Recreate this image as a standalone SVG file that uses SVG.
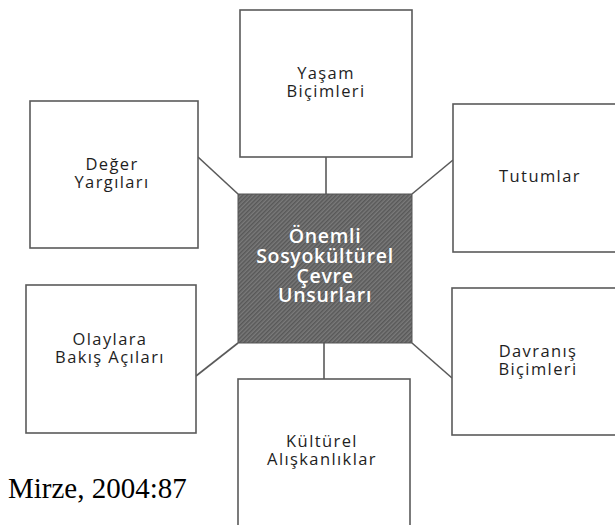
<svg xmlns="http://www.w3.org/2000/svg" width="615" height="525" viewBox="0 0 615 525">
<defs>
<pattern id="hatch" patternUnits="userSpaceOnUse" width="3" height="3" patternTransform="rotate(45)">
<rect width="3" height="3" fill="#7a7a7a"/>
<rect width="1.5" height="3" fill="#585858"/>
</pattern>
</defs>
<style>
.box{fill:#fff;stroke:#5a5a5a;stroke-width:1.6}
.lbl{font-family:"Open Sans","Noto Sans",sans-serif;font-size:16.5px;letter-spacing:1.4px;fill:#1e1e1e;text-anchor:middle}
.ctr{font-family:"Open Sans","Noto Sans",sans-serif;font-size:19.5px;font-weight:600;letter-spacing:0.7px;fill:#fff;text-anchor:middle}
.con{stroke:#5a5a5a;stroke-width:1.6;fill:none}
</style>
<rect width="615" height="525" fill="#fff"/>
<g id="connectors">
<line class="con" x1="326" y1="157" x2="326" y2="194"/>
<line class="con" x1="198" y1="157" x2="238" y2="194"/>
<line class="con" x1="453" y1="160" x2="412" y2="194"/>
<line class="con" x1="196" y1="376" x2="238" y2="343"/>
<line class="con" x1="452" y1="378" x2="412" y2="343"/>
<line class="con" x1="324" y1="343" x2="324" y2="379"/>
</g>
<g id="yasam">
<rect class="box" x="240" y="10" width="172" height="147"/>
<text class="lbl" x="326" y="79">Yaşam</text>
<text class="lbl" x="326" y="97">Biçimleri</text>
</g>
<g id="deger">
<rect class="box" x="30" y="101" width="168" height="147"/>
<text class="lbl" x="112" y="170">Değer</text>
<text class="lbl" x="112" y="188">Yargıları</text>
</g>
<g id="tutumlar">
<rect class="box" x="453" y="104" width="170" height="148"/>
<text class="lbl" x="540" y="182">Tutumlar</text>
</g>
<g id="olaylara">
<rect class="box" x="26" y="285" width="170" height="148"/>
<text class="lbl" x="110" y="345">Olaylara</text>
<text class="lbl" x="110" y="363">Bakış Açıları</text>
</g>
<g id="davranis">
<rect class="box" x="452" y="288" width="170" height="147"/>
<text class="lbl" x="538" y="357">Davranış</text>
<text class="lbl" x="538" y="375">Biçimleri</text>
</g>
<g id="kulturel">
<rect class="box" x="238" y="379" width="172" height="160"/>
<text class="lbl" x="322" y="447">Kültürel</text>
<text class="lbl" x="322" y="465">Alışkanlıklar</text>
</g>
<g id="center">
<rect x="238" y="194" width="174" height="149" fill="url(#hatch)" stroke="#555" stroke-width="1"/>
<text class="ctr" x="325" y="243">Önemli</text>
<text class="ctr" x="325" y="263">Sosyokültürel</text>
<text class="ctr" x="325" y="283">Çevre</text>
<text class="ctr" x="325" y="302">Unsurları</text>
</g>
<text x="8" y="498" font-family="Liberation Serif, serif" font-size="29" fill="#000">Mirze, 2004:87</text>
</svg>
